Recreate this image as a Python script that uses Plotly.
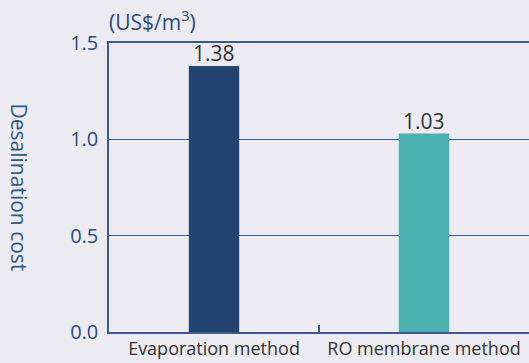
import plotly.graph_objects as go

categories = ["Evaporation method", "RO membrane method"]
costs = [1.38, 1.03]
bar_colors = ["#234470", "#4ab0b0"]
y_ticks = [0.0, 0.5, 1.0, 1.5]
y_title = "Desalination cost"
unit_label = "(US$/m<sup>3</sup>)"

FONT = "Open Sans"
NAVY = "#2b4c7e"
LINE = "#3d5a8a"
BG = "#ecebf1"

fig = go.Figure(
    go.Bar(
        x=categories,
        y=costs,
        marker=dict(color=bar_colors, line=dict(width=0)),
        width=0.24,
        cliponaxis=False,
    )
)

annotations = [
    dict(
        text=f"{v:.2f}",
        x=c, y=v,
        xref="x", yref="y",
        xanchor="center", yanchor="bottom",
        yshift=-3,
        showarrow=False,
        font=dict(family=FONT, size=21, color="#333333"),
    )
    for c, v in zip(categories, costs)
]

annotations += [
    dict(
        text=y_title,
        xref="paper", yref="paper",
        x=-0.212, y=0.5,
        xanchor="center", yanchor="middle",
        textangle=90,
        showarrow=False,
        font=dict(family=FONT, size=21, color="#2e5a8c"),
    ),
    dict(
        text=unit_label,
        xref="paper", yref="paper",
        x=0, y=1,
        xanchor="left", yanchor="bottom",
        xshift=-2,
        yshift=5,
        showarrow=False,
        font=dict(family=FONT, size=21, color=NAVY),
    ),
]

fig.update_layout(
    width=529,
    height=363,
    margin=dict(l=109, r=0, t=43, b=31),
    paper_bgcolor=BG,
    plot_bgcolor=BG,
    showlegend=False,
    font=dict(family=FONT, color=NAVY),
    xaxis=dict(
        type="category",
        range=[-0.5, 1.5],
        showline=True,
        linecolor=LINE,
        linewidth=1.5,
        mirror=True,
        ticks="inside",
        tickson="boundaries",
        ticklen=7,
        tickwidth=1.5,
        tickcolor=LINE,
        showgrid=False,
        tickfont=dict(family=FONT, size=18, color="#333333"),
    ),
    yaxis=dict(
        range=[0, 1.5],
        tickvals=y_ticks,
        tickformat=".1f",
        showline=True,
        linecolor=LINE,
        linewidth=1.5,
        ticks="",
        showgrid=True,
        gridcolor=LINE,
        gridwidth=1,
        zeroline=False,
        ticklabelstandoff=5,
        tickfont=dict(family=FONT, size=20, color=NAVY),
    ),
    annotations=annotations,
)

fig.write_html("out.html")
